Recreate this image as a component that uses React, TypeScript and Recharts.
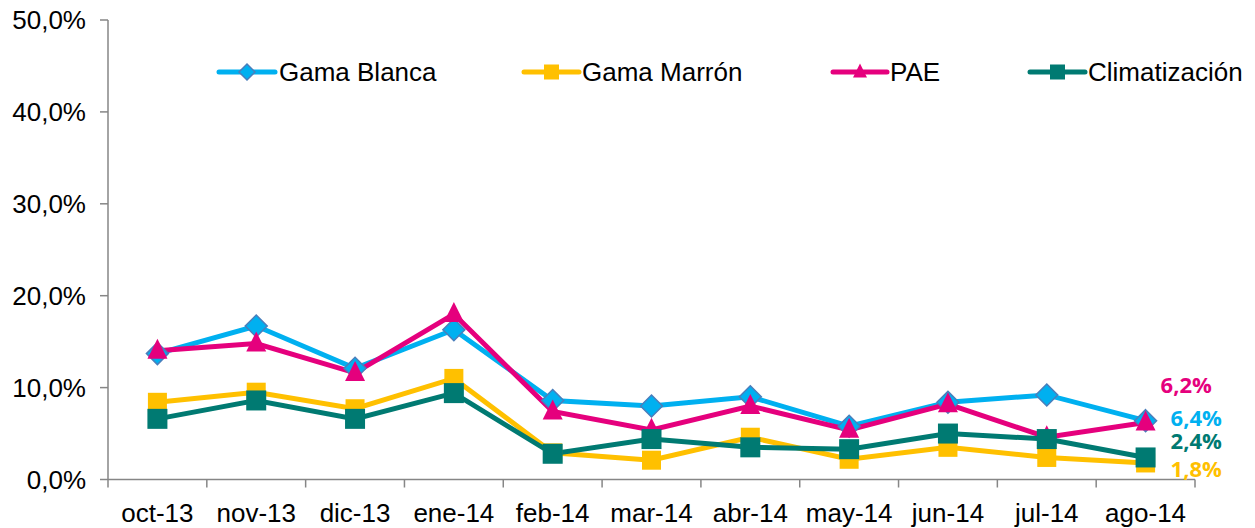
import React from 'react';
import { LineChart, Line, XAxis, YAxis, LabelList } from 'recharts';

const months = ['oct-13', 'nov-13', 'dic-13', 'ene-14', 'feb-14', 'mar-14', 'abr-14', 'may-14', 'jun-14', 'jul-14', 'ago-14'];
const gamaBlanca = [13.7, 16.7, 12.1, 16.3, 8.6, 8.0, 9.0, 5.8, 8.4, 9.2, 6.4];
const gamaMarron = [8.4, 9.5, 7.7, 11.0, 2.9, 2.1, 4.6, 2.2, 3.5, 2.4, 1.8];
const pae = [14.0, 14.8, 11.6, 18.0, 7.4, 5.4, 8.0, 5.4, 8.2, 4.6, 6.2];
const climatizacion = [6.6, 8.6, 6.6, 9.4, 2.8, 4.4, 3.5, 3.3, 5.0, 4.4, 2.4];
const yTicks = [0, 10, 20, 30, 40, 50];

const data = months.map((m, i) => ({
  i,
  month: m,
  gb: gamaBlanca[i],
  gm: gamaMarron[i],
  pae: pae[i],
  clim: climatizacion[i],
}));

const xTicks: number[] = [];
for (let k = -1; k <= 21; k++) xTicks.push(k / 2);

const C_GB = '#00B0F0';
const C_GM = '#FFC000';
const C_PAE = '#E5007D';
const C_CLIM = '#007A72';
const AXIS = '#868686';
const FONT = '"Liberation Sans", Arial, sans-serif';
const FS = 26;

const fmt = (v: number) => `${v.toFixed(1).replace('.', ',')}%`;

const Diamond = ({ cx, cy, r, key }: any) => (
  <path key={key} d={`M${cx},${cy - r} L${cx + r},${cy} L${cx},${cy + r} L${cx - r},${cy} Z`} fill={C_GB} stroke="#4A7EBB" strokeWidth={1.5} />
);
const Square = ({ cx, cy, s, fill, key }: any) => (
  <rect key={key} x={cx - s / 2} y={cy - s / 2} width={s} height={s} fill={fill} />
);
const Triangle = ({ cx, cy, s, key }: any) => (
  <path key={key} d={`M${cx},${cy - s * 0.6} L${cx + s / 2},${cy + s * 0.4} L${cx - s / 2},${cy + s * 0.4} Z`} fill={C_PAE} />
);

const XTick = (props: any) => {
  const { x, y, payload } = props;
  const v = payload.value as number;
  const axisY = y - 8;
  if (Math.abs(v - Math.round(v)) > 0.01) {
    return <line x1={x} x2={x} y1={axisY} y2={axisY + 8} stroke={AXIS} strokeWidth={1.5} />;
  }
  return (
    <text x={x} y={axisY + 33} textAnchor="middle" dominantBaseline="central" fontFamily={FONT} fontSize={FS} fill="#000">
      {months[Math.round(v)]}
    </text>
  );
};

const endLabel = (color: string, dx: number, dy: number) => (props: any) => {
  const { x, y, index, value } = props;
  if (index !== months.length - 1) return null;
  return (
    <text x={x + dx} y={y + dy} dominantBaseline="central" fontFamily='"Open Sans", sans-serif' fontWeight={700} fontSize={22} fill={color}>
      {fmt(value)}
    </text>
  );
};

const legendItems = [
  { name: 'Gama Blanca', color: C_GB, x1: 219, x2: 275, tx: 279, marker: 'diamond' },
  { name: 'Gama Marrón', color: C_GM, x1: 524, x2: 579, tx: 582, marker: 'square' },
  { name: 'PAE', color: C_PAE, x1: 833, x2: 887, tx: 890, marker: 'triangle' },
  { name: 'Climatización', color: C_CLIM, x1: 1030, x2: 1085, tx: 1088, marker: 'square' },
];

const Legend = () => (
  <svg width={1255} height={120} style={{ position: 'absolute', left: 0, top: 0, pointerEvents: 'none' }}>
    {legendItems.map((it) => {
      const cy = 72;
      const cx = (it.x1 + it.x2) / 2;
      return (
        <g key={it.name}>
          <line x1={it.x1} x2={it.x2} y1={cy} y2={cy} stroke={it.color} strokeWidth={5} strokeLinecap="round" />
          {it.marker === 'diamond' && Diamond({ cx, cy, r: 8 })}
          {it.marker === 'square' && Square({ cx, cy, s: 15, fill: it.color })}
          {it.marker === 'triangle' && Triangle({ cx, cy, s: 14 })}
          <text x={it.tx} y={cy} dominantBaseline="central" fontFamily={FONT} fontSize={FS} fill="#000">
            {it.name}
          </text>
        </g>
      );
    })}
  </svg>
);

export default function App() {
  return (
    <div style={{ position: 'absolute', left: 0, top: 0, width: 1255, height: 528, background: '#fff' }}>
      <LineChart width={1255} height={528} data={data} margin={{ top: 20, right: 60, bottom: 8.5, left: 8 }}>
        <XAxis
          dataKey="i"
          type="number"
          domain={[-0.5, 10.5]}
          ticks={xTicks}
          interval={0}
          height={40}
          tickLine={false}
          tickSize={8}
          tickMargin={0}
          stroke={AXIS}
          strokeWidth={1.5}
          tick={<XTick />}
        />
        <YAxis
          type="number"
          domain={[0, 50]}
          ticks={yTicks}
          width={100}
          tickSize={8}
          tickMargin={14}
          stroke={AXIS}
          strokeWidth={1.5}
          tickFormatter={(v: number) => fmt(v)}
          tick={{ fill: '#000', fontSize: FS, fontFamily: FONT }}
        />
        <Line dataKey="gb" stroke={C_GB} strokeWidth={5} isAnimationActive={false}
          dot={(p: any) => Diamond({ cx: p.cx, cy: p.cy, r: 11, key: `gb${p.index}` })}>
          <LabelList dataKey="gb" content={endLabel(C_GB, 25, -4)} />
        </Line>
        <Line dataKey="gm" stroke={C_GM} strokeWidth={5} isAnimationActive={false}
          dot={(p: any) => Square({ cx: p.cx, cy: p.cy, s: 19, fill: C_GM, key: `gm${p.index}` })}>
          <LabelList dataKey="gm" content={endLabel(C_GM, 25, 5)} />
        </Line>
        <Line dataKey="pae" stroke={C_PAE} strokeWidth={5} isAnimationActive={false}
          dot={(p: any) => Triangle({ cx: p.cx, cy: p.cy, s: 20, key: `pae${p.index}` })}>
          <LabelList dataKey="pae" content={endLabel(C_PAE, 15, -39)} />
        </Line>
        <Line dataKey="clim" stroke={C_CLIM} strokeWidth={5} isAnimationActive={false}
          dot={(p: any) => Square({ cx: p.cx, cy: p.cy, s: 20, fill: C_CLIM, key: `cl${p.index}` })}>
          <LabelList dataKey="clim" content={endLabel(C_CLIM, 25, -17)} />
        </Line>
      </LineChart>
      <Legend />
    </div>
  );
}
